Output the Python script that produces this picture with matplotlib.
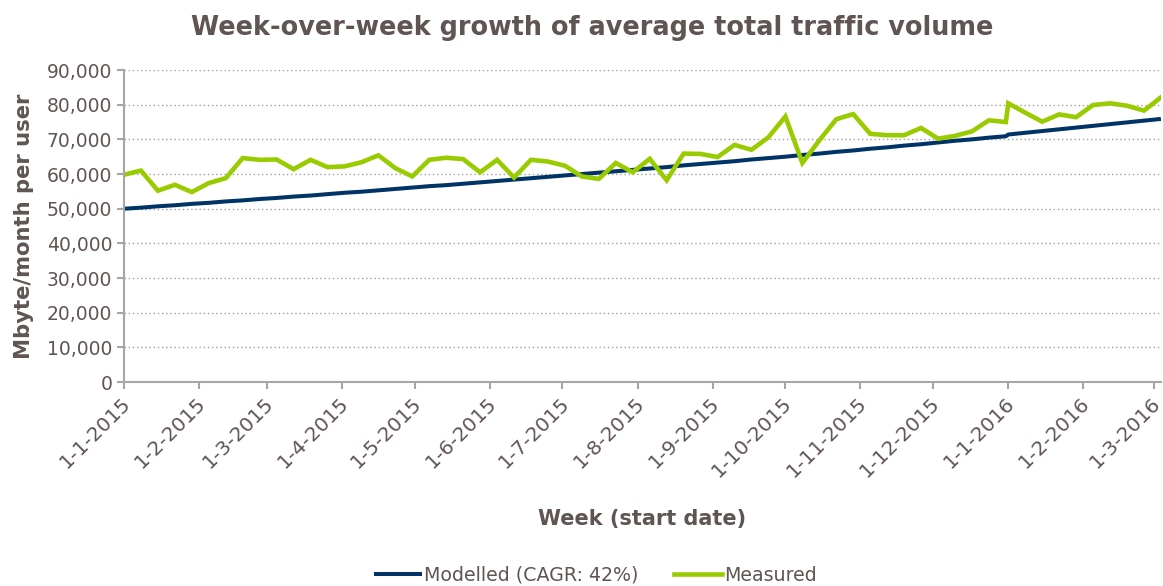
import pandas as pd
import matplotlib
matplotlib.use('Agg')
import matplotlib.pyplot as plt
import matplotlib.dates as mdates
import matplotlib.transforms as mtransforms
from matplotlib.ticker import FuncFormatter

# Semanas (data de inicio) - 2015 e 2016 sao series separadas
weeks_2015 = pd.date_range('2015-01-01', periods=53, freq='7D')
weeks_2016 = pd.date_range('2016-01-01', periods=10, freq='7D')

measured_2015 = [59800, 61000, 55200, 56900, 54800, 57400, 58800, 64600, 64100, 64200,
                 61400, 64100, 62000, 62200, 63400, 65400, 61700, 59300, 64100, 64700,
                 64300, 60500, 64100, 59000, 64100, 63600, 62400, 59300, 58600, 63200,
                 60500, 64400, 58200, 65900, 65800, 64900, 68400, 67000, 70600, 76600,
                 63200, 69700, 75800, 77300, 71600, 71200, 71200, 73300, 70200, 71000,
                 72300, 75500, 75000]
measured_2016 = [80400, 77700, 75100, 77200, 76400, 79900, 80400, 79700, 78300, 82100]

modelled_2015 = [50000, 50300, 50700, 51000, 51400, 51700, 52100, 52400, 52800, 53100,
                 53500, 53800, 54200, 54600, 54900, 55300, 55700, 56100, 56500, 56800,
                 57200, 57600, 58000, 58400, 58800, 59200, 59600, 60000, 60400, 60800,
                 61200, 61600, 62000, 62500, 62900, 63300, 63700, 64200, 64600, 65000,
                 65500, 65900, 66400, 66800, 67300, 67700, 68200, 68600, 69100, 69600,
                 70000, 70500, 70900]
modelled_2016 = [71400, 71900, 72400, 72900, 73400, 73900, 74400, 74900, 75400, 75900]

titulo = 'Week-over-week growth of average total traffic volume'
label_x = 'Week (start date)'
label_y = 'Mbyte/month per user'
legenda = ['Modelled (CAGR: 42%)', 'Measured']

COR_TEXTO = '#5F5552'
COR_EIXO = '#A6A6A6'


def main():
    weeks = weeks_2015.append(weeks_2016)
    measured = measured_2015 + measured_2016
    modelled = modelled_2015 + modelled_2016

    fig = plt.figure(figsize=(11.63, 5.86), dpi=100)
    ax = fig.add_axes([0.1066, 0.348, 0.8916, 0.5325])

    l1, = ax.plot(weeks, modelled, color='#003366', linewidth=2.9, solid_capstyle='butt')
    l2, = ax.plot(weeks, measured, color='#99CC00', linewidth=3.3, solid_joinstyle='miter')

    ax.set_ylim(0, 90000)
    ax.set_xlim(weeks[0], weeks[-1])
    ax.set_yticks(range(0, 90001, 10000))
    ax.yaxis.set_major_formatter(FuncFormatter(lambda v, p: f'{int(v):,}'))

    ax.xaxis.set_major_locator(mdates.MonthLocator())
    ax.xaxis.set_major_formatter(FuncFormatter(
        lambda v, p: '{d.day}-{d.month}-{d.year}'.format(d=mdates.num2date(v))))

    # grade pontilhada
    ax.grid(axis='y', linestyle=(0, (1, 2)), color='#A0A0A0', linewidth=1.0)
    ax.set_axisbelow(True)

    for s in ['top', 'right']:
        ax.spines[s].set_visible(False)
    for s in ['left', 'bottom']:
        ax.spines[s].set_color(COR_EIXO)
        ax.spines[s].set_linewidth(1.5)

    ax.tick_params(axis='both', colors=COR_EIXO, length=5, width=1.5, labelcolor=COR_TEXTO)
    ax.tick_params(axis='y', labelsize=13.5)
    ax.tick_params(axis='x', labelsize=14.5)
    desloc = mtransforms.ScaledTranslation(-3 / 100, 0, fig.dpi_scale_trans)
    for t in ax.get_xticklabels():
        t.set_rotation(45)
        t.set_ha('right')
        t.set_rotation_mode('anchor')
        t.set_transform(t.get_transform() + desloc)

    ax.set_ylabel(label_y, fontsize=15.2, fontweight='bold', color=COR_TEXTO, labelpad=9)
    ax.set_xlabel(label_x, fontsize=15, fontweight='bold', color=COR_TEXTO, labelpad=20)
    fig.text(0.509, 0.953, titulo, ha='center', va='center', fontsize=18.4,
             fontweight='bold', color=COR_TEXTO)

    leg = fig.legend([l1, l2], legenda, loc='center', bbox_to_anchor=(0.512, 0.018), ncol=2,
                     frameon=False, fontsize=13.7, handlelength=2.5, handletextpad=0.1,
                     columnspacing=1.9)
    for t in leg.get_texts():
        t.set_color(COR_TEXTO)

    fig.savefig('out.png', dpi=100)


if __name__ == "__main__":
    main()
